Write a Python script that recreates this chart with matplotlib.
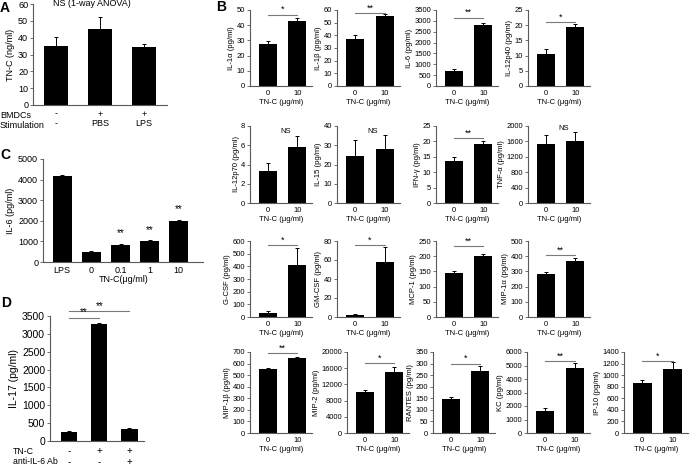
import matplotlib

matplotlib.use("Agg")

import matplotlib.pyplot as plt
from matplotlib.transforms import blended_transform_factory

plt.rcParams["font.family"] = ["Liberation Sans", "DejaVu Sans"]

W, H = 693, 466
AXIS_COLOR = "#5a5a5a"
LINE_COLOR = "#7a7a7a"

# ---- panel A: TN-C produced by BMDCs
a_values = [35, 45, 34.5]
a_errors = [5.5, 7.0, 2.0]
a_bmdcs = ["-", "+", "+"]
a_stim = ["-", "PBS", "LPS"]

# ---- panel C: IL-6 vs TN-C dose
c_labels = ["LPS", "0", "0.1", "1", "10"]
c_values = [4180, 500, 840, 1000, 2000]
c_errors = [50, 20, 50, 50, 50]
c_sig = ["", "", "**", "**", "**"]

# ---- panel D: IL-17 with anti-IL-6
d_values = [250, 3270, 350]
d_errors = [25, 25, 20]
d_tnc = ["-", "+", "+"]
d_ab = ["-", "-", "+"]

# ---- panel B: cytokines, 0 vs 10 ug/ml TN-C
b_names = ["IL-1α", "IL-1β", "IL-6", "IL-12p40",
           "IL-12p70", "IL-15", "IFN-γ", "TNF-α",
           "G-CSF", "GM-CSF", "MCP-1", "MIP-1α",
           "MIP-1β", "MIP-2", "RANTES", "KC", "IP-10"]
b_ctrl = [27.5, 37, 700, 10.5,
          3.3, 24.3, 13.7, 1530,
          30, 2, 145, 285,
          550, 10200, 145, 1650, 870]
b_ctrl_err = [2, 3.5, 60, 1.8,
              0.9, 8.2, 1.1, 230,
              15, 1, 5, 10,
              10, 500, 10, 200, 50]
b_tnc = [42.5, 55, 2830, 19.3,
         5.8, 28, 19.3, 1600,
         410, 58, 200, 368,
         650, 15000, 268, 4800, 1110]
b_tnc_err = [2.5, 2, 60, 1,
             1.2, 7.3, 0.9, 240,
             135, 16, 8, 22,
             10, 1400, 22, 350, 120]
b_ymax = [50, 60, 3500, 25,
          8, 40, 25, 2000,
          600, 80, 250, 500,
          700, 20000, 350, 6000, 1400]
b_ystep = [10, 10, 500, 5,
           2, 10, 5, 400,
           100, 20, 50, 100,
           100, 4000, 50, 1000, 200]
b_sig = ["*", "**", "**", "*",
         "NS", "NS", "**", "NS",
         "*", "*", "**", "**",
         "**", "*", "*", "**", "*"]
b_sig_y = [47, 57.5, 3150, 21,
           7.4, 37, 21, 1930,
           566, 76, 232, 410,
           690, 17200, 300, 5300, 1250]


def add_ax(fig, left, right, top, bottom):
    """Axes from pixel edges (top/bottom measured from the top of the figure)."""
    return fig.add_axes([left / W, 1 - bottom / H, (right - left) / W, (bottom - top) / H])


def style(ax, fs):
    for s in ("top", "right"):
        ax.spines[s].set_visible(False)
    for s in ("left", "bottom"):
        ax.spines[s].set_color(AXIS_COLOR)
        ax.spines[s].set_linewidth(0.8)
    ax.tick_params(axis="y", length=2, width=0.6, color=AXIS_COLOR, labelsize=fs, pad=1.5)
    ax.tick_params(axis="x", length=0, labelsize=fs, pad=3)


def bars(ax, values, errors, width):
    x = list(range(len(values)))
    ax.bar(x, values, width, color="black",
           yerr=[[0] * len(errors), errors],
           error_kw=dict(ecolor="black", elinewidth=0.7, capsize=1.2, capthick=0.7))
    return x


def fig_y(py):
    return 1 - py / H


fig = plt.figure(figsize=(W / 100, H / 100), dpi=100)

# ---------------- A
ax = add_ax(fig, 33, 167, 4, 105)
style(ax, 6.5)
x = bars(ax, a_values, a_errors, 0.55)
ax.set_xlim(-0.53, 2.52)
ax.set_ylim(0, 60)
ax.set_yticks(range(0, 61, 10))
ax.set_xticks([])
ax.set_ylabel("TN-C (ng/ml)", fontsize=6.5, labelpad=2)
ax.text(0.8, 60, "NS (1-way ANOVA)", ha="center", va="center", fontsize=6.5)
tr = blended_transform_factory(ax.transData, fig.transFigure)
for xi, b, s in zip(x, a_bmdcs, a_stim):
    ax.text(xi, fig_y(114), b, transform=tr, ha="center", va="center", fontsize=6.5)
    ax.text(xi, fig_y(124), s, transform=tr, ha="center", va="center", fontsize=6.5)
fig.text(0, fig_y(115), "BMDCs", ha="left", va="center", fontsize=6.5)
fig.text(0, fig_y(125), "Stimulation", ha="left", va="center", fontsize=6.5)

# ---------------- C
ax = add_ax(fig, 43, 203, 159, 262)
style(ax, 6.5)
x = bars(ax, c_values, c_errors, 0.65)
ax.set_xlim(-0.66, 4.83)
ax.set_ylim(0, 5000)
ax.set_yticks(range(0, 5001, 1000))
ax.set_xticks(x)
ax.set_xticklabels(c_labels)
ax.set_ylabel("IL-6 (pg/ml)", fontsize=6.5, labelpad=2)
for xi, v, e, s in zip(x, c_values, c_errors, c_sig):
    if s:
        ax.annotate(s, (xi, v + e), xytext=(0, 4), textcoords="offset points",
                    ha="center", va="bottom", fontsize=7)
tr = blended_transform_factory(ax.transData, fig.transFigure)
ax.text(2.1, fig_y(280), "TN-C(μg/ml)", transform=tr, ha="center", va="center", fontsize=6.5)

# ---------------- D
ax = add_ax(fig, 50, 144, 316, 441)
style(ax, 7.5)
x = bars(ax, d_values, d_errors, 0.53)
ax.set_xlim(-0.63, 2.48)
ax.set_ylim(0, 3500)
ax.set_yticks(range(0, 3501, 500))
ax.set_xticks([])
ax.set_ylabel("IL-17 (pg/ml)", fontsize=7.5, labelpad=2)
for x1, y in ((1, 3440), (2, 3630)):
    ax.plot([0, x1], [y, y], color=LINE_COLOR, lw=0.8, clip_on=False)
    ax.annotate("**", (x1 / 2, y), xytext=(0, 0.5), textcoords="offset points",
                ha="center", va="bottom", fontsize=7, annotation_clip=False)
tr = blended_transform_factory(ax.transData, fig.transFigure)
for xi, t, b in zip(x, d_tnc, d_ab):
    ax.text(xi, fig_y(451), t, transform=tr, ha="center", va="center", fontsize=7)
    ax.text(xi, fig_y(462), b, transform=tr, ha="center", va="center", fontsize=7)
fig.text(13 / W, fig_y(451), "TN-C", ha="left", va="center", fontsize=6.3)
fig.text(13 / W, fig_y(462), "anti-IL-6 Ab", ha="left", va="center", fontsize=6.3)

# ---------------- B
row_edges = [(10, 86), (126, 203), (241, 317), (352, 433)]
col_edges = [(250, 312), (337, 400), (436, 498), (528, 590)]
last_row_cols = [(250, 312), (347, 409), (433, 495), (527, 590), (624, 688)]

slots = []
for r in range(3):
    for c in range(4):
        slots.append((row_edges[r], col_edges[c]))
for c in range(5):
    slots.append((row_edges[3], last_row_cols[c]))

for i, name in enumerate(b_names):
    (top, bottom), (left, right) = slots[i]
    ax = add_ax(fig, left, right, top, bottom)
    style(ax, 5.5)
    bars(ax, [b_ctrl[i], b_tnc[i]], [b_ctrl_err[i], b_tnc_err[i]], 0.62)
    ax.set_xlim(-0.6, 1.5)
    ax.set_ylim(0, b_ymax[i])
    ax.set_yticks(range(0, b_ymax[i] + 1, b_ystep[i]))
    ax.set_xticks([0, 1])
    ax.set_xticklabels(["0", "10"])
    ax.set_xlabel("TN-C (μg/ml)", fontsize=5.5, labelpad=1)
    ax.set_ylabel(f"{name} (pg/ml)", fontsize=5.5, labelpad=1)
    if b_sig[i] == "NS":
        ax.text(0.6, b_sig_y[i], "NS", ha="center", va="center", fontsize=5.5)
    else:
        ax.plot([0, 1], [b_sig_y[i]] * 2, color=LINE_COLOR, lw=0.8, clip_on=False)
        ax.annotate(b_sig[i], (0.5, b_sig_y[i]), xytext=(0, 0.3), textcoords="offset points",
                    ha="center", va="bottom", fontsize=6.5, annotation_clip=False)

# panel letters
for letter, px, py in (("A", 5, 8), ("B", 221, 7), ("C", 5, 155), ("D", 6, 303)):
    fig.text(px / W, fig_y(py), letter, ha="center", va="center",
             fontsize=10, fontweight="bold")

fig.savefig("out.png", dpi=100)
plt.close(fig)
